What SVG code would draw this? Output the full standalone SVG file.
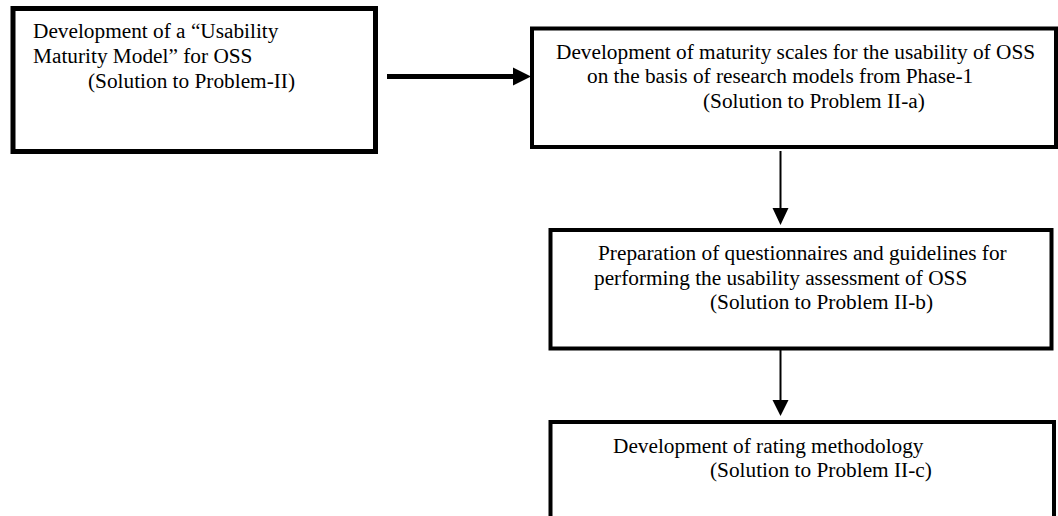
<svg xmlns="http://www.w3.org/2000/svg" width="1058" height="516" viewBox="0 0 1058 516">
  <style>
    .box { fill: #fff; stroke: #000; stroke-width: 4; }
    .box.main { stroke-width: 5; }
    .label { font-family: "Liberation Serif", "Times New Roman", serif; font-size: 21.3px; fill: #000; }
    .link { stroke: #000; fill: none; }
    .head { fill: #000; stroke: none; }
  </style>
  <rect width="1058" height="516" fill="#fff"/>

  <!-- connectors -->
  <g id="connectors">
    <line class="link" x1="387" y1="76.5" x2="515" y2="76.5" stroke-width="5"/>
    <polygon class="head" points="513,67.5 531,76.5 513,85.5"/>
    <line class="link" x1="780.5" y1="151" x2="780.5" y2="210" stroke-width="2"/>
    <polygon class="head" points="772.5,208 788.5,208 780.5,225"/>
    <line class="link" x1="780.5" y1="345" x2="780.5" y2="402" stroke-width="2"/>
    <polygon class="head" points="772.5,400 788.5,400 780.5,416"/>
  </g>

  <!-- usability maturity model -->
  <g id="node-maturity-model">
    <rect class="box main" x="13" y="8.5" width="362.5" height="143"/>
    <text class="label" x="33" y="38">Development of a “Usability</text>
    <text class="label" x="33" y="63">Maturity Model” for OSS</text>
    <text class="label" x="88" y="88">(Solution to Problem-II)</text>
  </g>

  <!-- maturity scales -->
  <g id="node-maturity-scales">
    <rect class="box" x="532" y="28.5" width="524" height="118.5"/>
    <text class="label" x="556" y="59">Development of maturity scales for the usability of OSS</text>
    <text class="label" x="587" y="83">on the basis of research models from Phase-1</text>
    <text class="label" x="703" y="108">(Solution to Problem II-a)</text>
  </g>

  <!-- questionnaires and guidelines -->
  <g id="node-questionnaires">
    <rect class="box" x="550.5" y="230" width="501" height="118.5"/>
    <text class="label" x="598" y="260">Preparation of questionnaires and guidelines for</text>
    <text class="label" x="594" y="285">performing the usability assessment of OSS</text>
    <text class="label" x="710" y="309">(Solution to Problem II-b)</text>
  </g>

  <!-- rating methodology -->
  <g id="node-rating">
    <rect class="box" x="550.5" y="422" width="503.5" height="120"/>
    <text class="label" x="613" y="453">Development of rating methodology</text>
    <text class="label" x="710" y="477">(Solution to Problem II-c)</text>
  </g>
</svg>
